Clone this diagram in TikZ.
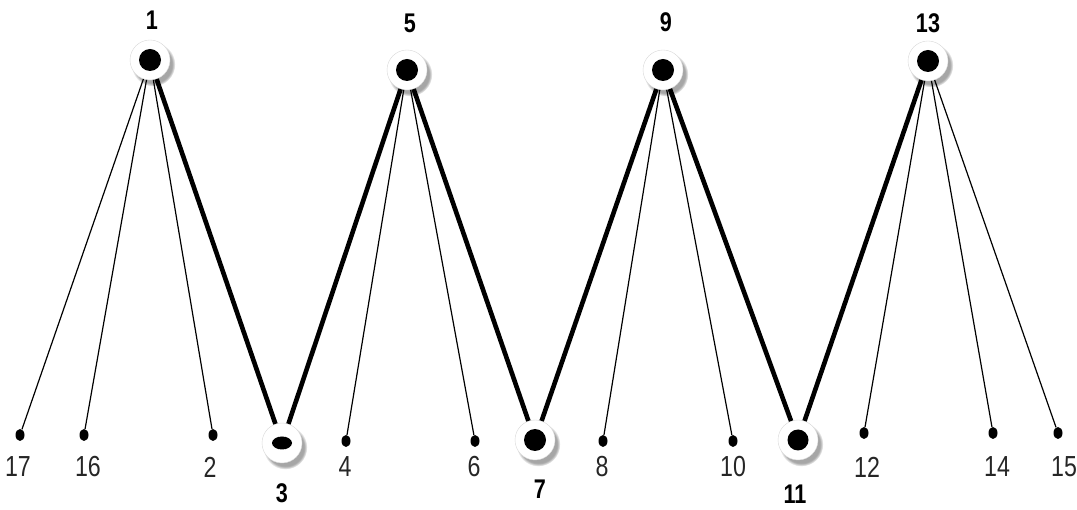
\documentclass[tikz,border=0pt]{standalone}
\usepackage{fontspec}
\setmainfont{Liberation Sans}[FakeStretch=0.8]
\usetikzlibrary{shapes.geometric,shadows}

\tikzset{
    hub/.style={circle, fill=white, draw=gray!30, minimum size=40pt, inner sep=0pt,
        circular drop shadow={shadow xshift=3pt, shadow yshift=-4pt, fill=gray!70},
        path picture={\fill[black] (path picture bounding box.center) ellipse (#1);}},
    hub/.default={11pt and 11pt},
    leaf/.style={ellipse, fill=black, inner sep=0pt, minimum width=9pt, minimum height=12pt},
    hublbl/.style={font=\fontsize{27}{32}\selectfont\bfseries, inner sep=0pt},
    leaflbl/.style={font=\fontsize{29}{34}\selectfont, text=black!85, inner sep=0pt},
    thin edge/.style={line width=1.2pt},
    thick edge/.style={line width=4.6pt}
}

\begin{document}
\begin{tikzpicture}[x=1pt,y=-1pt]
    \useasboundingbox (0,0) rectangle (1077,510);

    % Hubs on top and bottom
    \node[hub] (h1) at (150,60) {};
    \node[hub] (h5) at (407,70) {};
    \node[hub] (h9) at (663,70) {};
    \node[hub] (h13) at (928,61) {};
    \node[hub={10pt and 6.5pt}] (h3) at (282,443) {};
    \node[hub] (h7) at (535,440) {};
    \node[hub={10.5pt and 10.5pt}] (h11) at (798,440) {};

    % Leaves
    \node[leaf] (l17) at (20,435) {};
    \node[leaf] (l16) at (84,435) {};
    \node[leaf] (l2) at (213,435) {};
    \node[leaf] (l4) at (346,441) {};
    \node[leaf] (l6) at (475,441) {};
    \node[leaf] (l8) at (603,441) {};
    \node[leaf] (l10) at (733,441) {};
    \node[leaf] (l12) at (864,433) {};
    \node[leaf] (l14) at (993,433) {};
    \node[leaf] (l15) at (1058,433) {};

    % Labels
    \node[hublbl] (t1) at (152,20) {1};
    \node[hublbl] (t5) at (410,23) {5};
    \node[hublbl] (t9) at (666,22) {9};
    \node[hublbl] (t13) at (928,23) {13};
    \node[hublbl] (t3) at (282,493) {3};
    \node[hublbl] (t7) at (540,489) {7};
    \node[hublbl] (t11) at (795,494) {11};
    \node[leaflbl] (s17) at (18,467) {17};
    \node[leaflbl] (s16) at (88,467) {16};
    \node[leaflbl] (s2) at (210,467) {2};
    \node[leaflbl] (s4) at (345,467) {4};
    \node[leaflbl] (s6) at (474,467) {6};
    \node[leaflbl] (s8) at (602,467) {8};
    \node[leaflbl] (s10) at (733,467) {10};
    \node[leaflbl] (s12) at (867,467) {12};
    \node[leaflbl] (s14) at (997,467) {14};
    \node[leaflbl] (s15) at (1064,467) {15};

    % The zigzag
    \draw[thick edge] (h1) -- (h3) -- (h5) -- (h7) -- (h9) -- (h11) -- (h13);

    % Thin spokes
    \foreach \l in {17,16,2}
        \draw[thin edge] (h1) -- (l\l);
    \foreach \l in {4,6}
        \draw[thin edge] (h5) -- (l\l);
    \foreach \l in {8,10}
        \draw[thin edge] (h9) -- (l\l);
    \foreach \l in {12,14,15}
        \draw[thin edge] (h13) -- (l\l);
\end{tikzpicture}
\end{document}
